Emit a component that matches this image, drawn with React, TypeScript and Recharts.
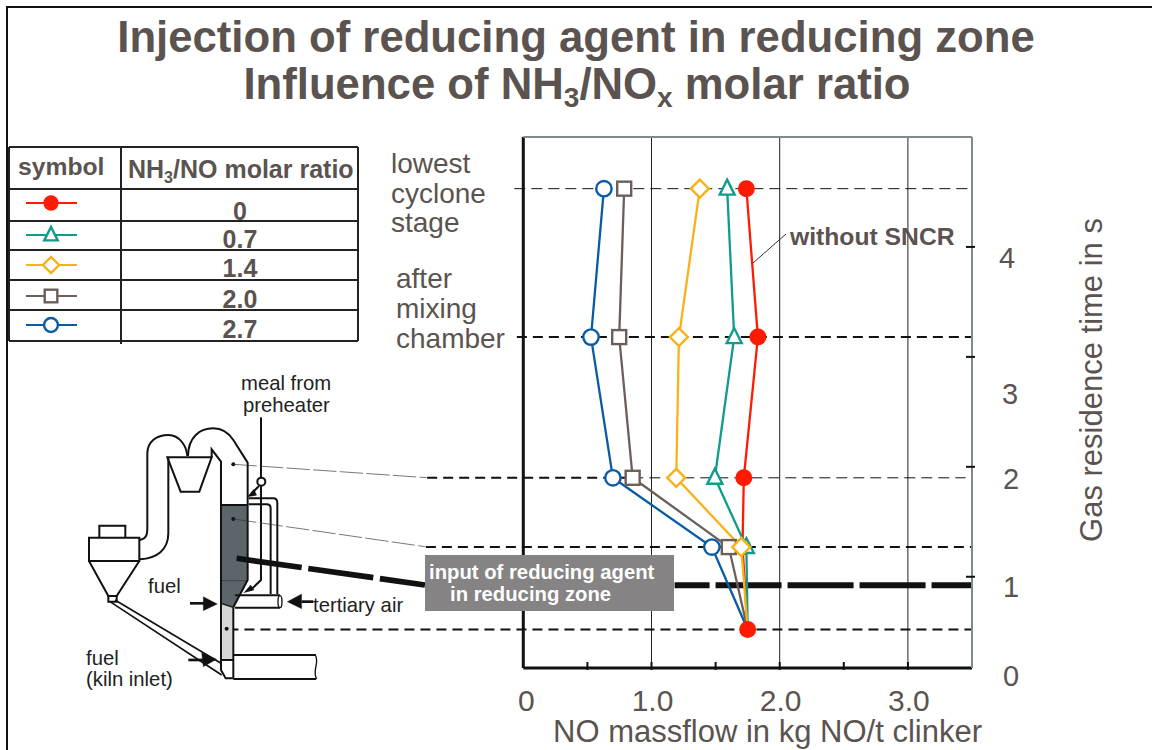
import React from "react";
import { ComposedChart, Line, XAxis, YAxis, CartesianGrid, ReferenceLine } from "recharts";

const residenceTime = [4.53, 3.18, 1.9, 1.27, 0.52];
const ratio0 = [1.74, 1.83, 1.72, 1.71, 1.75];
const ratio07 = [1.59, 1.645, 1.494, 1.74, 1.75];
const ratio14 = [1.377, 1.214, 1.193, 1.7, 1.75];
const ratio20 = [0.787, 0.748, 0.853, 1.603, 1.75];
const ratio27 = [0.629, 0.528, 0.699, 1.471, 1.75];
const xTicks = [0, 0.5, 1, 1.5, 2, 2.5, 3, 3.5];
const yTicks = [0.17, 1, 2, 3, 4];
const yTickLabels = ["0", "1", "2", "3", "4"];
const ratioLabels = ["0", "0.7", "1.4", "2.0", "2.7"];

const data = residenceTime.map((t, i) => ({
  t,
  r0: ratio0[i],
  r07: ratio07[i],
  r14: ratio14[i],
  r20: ratio20[i],
  r27: ratio27[i],
}));

const TEXT = "#5b5350";
const FONT = "'Liberation Sans', Arial, sans-serif";
const COLORS = { red: "#ff1a00", teal: "#0f9c8c", gold: "#fbb017", gray: "#6b5f5b", blue: "#0a5ba5" };

type Kind = "circleFilled" | "triangle" | "diamond" | "square" | "circle";

function Marker({ kind, cx, cy, color, scale = 1 }: { kind: Kind; cx: number; cy: number; color: string; scale?: number }) {
  const sw = 2.4;
  if (kind === "circleFilled") return <circle cx={cx} cy={cy} r={8.5 * scale} fill={color} />;
  if (kind === "circle") return <circle cx={cx} cy={cy} r={7.7 * scale} fill="#fff" stroke={color} strokeWidth={sw} />;
  if (kind === "square") {
    const s = 7 * scale;
    return <rect x={cx - s} y={cy - s} width={2 * s} height={2 * s} fill="#fff" stroke={color} strokeWidth={sw} />;
  }
  if (kind === "diamond") {
    const s = 9 * scale;
    return <path d={`M${cx - s},${cy}L${cx},${cy - s}L${cx + s},${cy}L${cx},${cy + s}Z`} fill="#fff" stroke={color} strokeWidth={sw} />;
  }
  const s = 7.5 * scale;
  return <path d={`M${cx - s},${cy + 6 * scale}L${cx},${cy - 9 * scale}L${cx + s},${cy + 6 * scale}Z`} fill="#fff" stroke={color} strokeWidth={sw} />;
}

const dotFor = (kind: Kind, color: string, showLast: boolean) => (p: any) => {
  const { cx, cy, index } = p;
  if (index === residenceTime.length - 1 && !showLast) return <g key={index} />;
  return (
    <g key={index}>
      <Marker kind={kind} cx={cx} cy={cy} color={color} />
    </g>
  );
};

const XTick = (p: any) => {
  const { x, y, payload } = p;
  const v = payload.value;
  const label = Number.isInteger(v) && v < 3.5 ? (v === 0 ? "0" : v.toFixed(1)) : null;
  return (
    <g>
      {v > 0 && v < 3.5 && <line x1={x} x2={x} y1={y} y2={y - 8} stroke="#111" strokeWidth={2} />}
      {label && (
        <text x={x + (v === 0 ? 3 : 1)} y={y + 41} textAnchor="middle" fontSize={30} fontFamily={FONT} fill={TEXT}>
          {label}
        </text>
      )}
    </g>
  );
};

const yLabelShift = [18, 20.5, 22, 47, 21];
const yLabelX = [37, 37, 37, 36, 33];
const YTick = (p: any) => {
  const { x, y, index } = p;
  return (
    <g>
      {index > 0 && <line x1={x - 8} x2={x + 1} y1={y} y2={y} stroke="#111" strokeWidth={2} />}
      <text x={x + yLabelX[index]} y={y + yLabelShift[index]} textAnchor="middle" fontSize={29} fontFamily={FONT} fill={TEXT}>
        {yTickLabels[index]}
      </text>
    </g>
  );
};

const rows = [147, 189, 221, 250, 280, 310, 341];
const legendKinds: { kind: Kind; color: string }[] = [
  { kind: "circleFilled", color: COLORS.red },
  { kind: "triangle", color: COLORS.teal },
  { kind: "diamond", color: COLORS.gold },
  { kind: "square", color: COLORS.gray },
  { kind: "circle", color: COLORS.blue },
];
const legendLineY = [203, 235, 265, 296, 325];
const legendTextY = [220, 248, 277, 308, 338];

function Overlay() {
  const t = (x: number, y: number, s: string, size = 28, extra: any = {}) => (
    <text x={x} y={y} fontSize={size} fontFamily={FONT} fill={TEXT} {...extra}>
      {s}
    </text>
  );
  const dark = { fill: "#222" };
  return (
    <svg width={1152} height={750} style={{ position: "absolute", left: 0, top: 0, pointerEvents: "none" }}>
      <path d="M7,750L7,7L1152,7" fill="none" stroke="#111" strokeWidth={2} />
      <text x={576} y={52} textAnchor="middle" fontSize={43.7} fontWeight="bold" fontFamily={FONT} fill={TEXT}>
        Injection of reducing agent in reducing zone
      </text>
      <text x={577} y={99} textAnchor="middle" fontSize={43.7} fontWeight="bold" fontFamily={FONT} fill={TEXT}>
        Influence of NH<tspan fontSize={28} dy={8}>3</tspan>
        <tspan dy={-8}>/NO</tspan>
        <tspan fontSize={28} dy={8}>x</tspan>
        <tspan dy={-8}> molar ratio</tspan>
      </text>

      {/* legend table */}
      <g stroke="#222" strokeWidth={2} fill="none">
        {rows.map((y) => (
          <line key={y} x1={9} x2={358} y1={y} y2={y} />
        ))}
        <line x1={9} x2={9} y1={147} y2={341} />
        <line x1={358} x2={358} y1={147} y2={341} />
        <line x1={121} x2={121} y1={147} y2={344} />
      </g>
      {t(18, 175, "symbol", 24.7, { fontWeight: "bold" })}
      <text x={128} y={178} fontSize={25} fontWeight="bold" fontFamily={FONT} fill={TEXT}>
        NH<tspan fontSize={16} dy={5}>3</tspan>
        <tspan dy={-5}>/NO molar ratio</tspan>
      </text>
      {legendKinds.map((k, i) => (
        <g key={i}>
          <line x1={26} x2={77} y1={legendLineY[i]} y2={legendLineY[i]} stroke={k.color} strokeWidth={2} />
          <Marker kind={k.kind} cx={51} cy={legendLineY[i]} color={k.color} scale={0.9} />
          <text x={240} y={legendTextY[i]} textAnchor="middle" fontSize={25} fontWeight="bold" fontFamily={FONT} fill={TEXT}>
            {ratioLabels[i]}
          </text>
        </g>
      ))}

      {t(391, 173, "lowest")}
      {t(391, 203, "cyclone")}
      {t(391, 232, "stage")}
      {t(396, 288, "after")}
      {t(396, 318, "mixing")}
      {t(396, 348, "chamber")}

      {/* kiln diagram */}
      <g transform="translate(60,370) scale(0.3333)" fill="none" stroke="#111" strokeWidth={6}>
        <path d="M483,405L562,405L562,630L520,712L483,700Z" fill="#5c6569" stroke="none" />
        <path d="M483,700L520,712L520,870L483,870Z" fill="#d4d6d8" stroke="none" />
        <path d="M483,632L562,632" stroke="#333" strokeWidth={2} />
        <path d="M483,405L562,405" />
        <path d="M240,510C262,505 262,490 262,470L262,250C262,215 290,195 325,195C360,195 380,230 382,258" />
        <path d="M240,568C290,565 325,540 325,490L325,262" />
        <path d="M322,262L455,262L418,365L362,365Z" />
        <path d="M384,258C385,200 420,175 460,175C490,175 510,195 520,210L563,278L563,630L520,712" />
        <path d="M455,262L455,238L483,275L483,900L497,925L520,925" />
        <path d="M520,712L520,925" />
        <path d="M483,700L520,712" strokeWidth={4} />
        <path d="M483,870L520,870" />
        <path d="M520,855L768,855M520,927L768,927" />
        <path d="M766,855C780,880 755,900 770,927" strokeWidth={4} />
        <path d="M118,503L118,467L196,467L196,503" />
        <path d="M87,503L238,503L238,573L87,573Z" />
        <path d="M87,573L145,678L170,678L238,573" />
        <path d="M145,678L170,678L170,695L145,695Z" />
        <path d="M150,695L485,915M165,690L483,880" strokeWidth={5} />
        <path d="M525,676L660,676M525,713L660,713" />
        <ellipse cx={660} cy={695} rx={6} ry={18} strokeWidth={4} />
        <path d="M566,385L640,385Q652,385 652,400L652,672" />
        <path d="M566,403L620,403Q632,403 632,415L632,672" />
        <path d="M603,142L603,325" />
        <path d="M603,348L603,630L572,660" />
        <circle cx={604} cy={335} r={12} fill="#fff" />
        <path d="M597,348L575,370" />
        <path d="M562,380L582,358L590,376Z" fill="#111" strokeWidth={1} />
        <path d="M552,668L572,645L582,660Z" fill="#111" strokeWidth={1} />
        <path d="M390,700L440,700" strokeWidth={8} />
        <path d="M430,680L472,702L430,722Z" fill="#111" strokeWidth={1} />
        <path d="M725,695L760,695" strokeWidth={8} />
        <path d="M682,695L725,672L725,716Z" fill="#111" strokeWidth={1} />
        <path d="M385,870L435,870" strokeWidth={8} />
        <path d="M425,848L470,868L430,890Z" fill="#111" strokeWidth={1} />
        <circle cx={520} cy={283} r={6} fill="#111" stroke="none" />
        <circle cx={520} cy={447} r={6} fill="#111" stroke="none" />
        <circle cx={500} cy={776} r={6} fill="#111" stroke="none" />
        <path d="M520,283L1100,323M520,447L1095,530" strokeWidth={2} strokeDasharray="70 10" stroke="#333" />
        <path d="M530,565L1095,645" strokeWidth={17} strokeDasharray="197 20" />
      </g>
      {t(241, 390, "meal from", 20.3, dark)}
      {t(243, 412, "preheater", 20.3, dark)}
      {t(148, 593, "fuel", 20.3, dark)}
      {t(313, 612, "tertiary air", 20.3, dark)}
      {t(86, 665, "fuel", 20.3, dark)}
      {t(86, 686, "(kiln inlet)", 20.3, dark)}

      {/* callout */}
      <rect x={425} y={555} width={249} height={56} fill="#858383" />
      <text x={429} y={579} fontSize={20.3} fontWeight="bold" fontFamily={FONT} fill="#fff">input of reducing agent</text>
      <text x={450} y={601} fontSize={20.3} fontWeight="bold" fontFamily={FONT} fill="#fff">in reducing zone</text>

      <line x1={786} y1={234} x2={753} y2={263} stroke="#333" strokeWidth={1} />
      {t(790, 245, "without SNCR", 24.7, { fontWeight: "bold" })}

      <text x={767.5} y={742} textAnchor="middle" fontSize={31} fontFamily={FONT} fill={TEXT}>
        NO massflow in kg NO/t clinker
      </text>
      <text transform="translate(1102,380) rotate(-90)" textAnchor="middle" fontSize={31} fontFamily={FONT} fill={TEXT}>
        Gas residence time in s
      </text>
    </svg>
  );
}

const guideLines = [
  { y: residenceTime[0], from: -0.07, to: 3.5, w: 1, dash: "11 6" },
  { y: residenceTime[1], from: -0.05, to: 3.5, w: 2, dash: "10 6" },
  { y: residenceTime[2], from: -0.75, to: 0.85, w: 2, dash: "10 6" },
  { y: residenceTime[2], from: 0.85, to: 3.45, w: 1, dash: "11 6" },
  { y: residenceTime[3], from: -0.76, to: 3.5, w: 2, dash: "10 6" },
  { y: residenceTime[4], from: -2.3, to: 3.5, w: 2, dash: "10 6" },
];

export default function App() {
  return (
    <div style={{ position: "absolute", left: 0, top: 0, width: 1152, height: 750, background: "#fff", overflow: "hidden" }}>
      <ComposedChart
        width={1152}
        height={750}
        data={data}
        layout="vertical"
        margin={{ top: 137, left: 523.3, right: 120, bottom: 42 }}
      >
        <CartesianGrid horizontal={false} vertical verticalValues={[1, 2, 3]} stroke="#222" strokeWidth={1} />
        <XAxis
          type="number"
          domain={[0, 3.5]}
          ticks={xTicks}
          height={40}
          interval={0}
          tickSize={0}
          axisLine={{ stroke: "#111", strokeWidth: 3 }}
          tickLine={false}
          tick={XTick}
        />
        <YAxis
          yAxisId="0"
          type="number"
          dataKey="t"
          orientation="right"
          reversed
          domain={[0.17, 5]}
          ticks={yTicks}
          width={60}
          interval={0}
          tickSize={0}
          axisLine={{ stroke: "#7f8a8c", strokeWidth: 2 }}
          tickLine={false}
          tick={YTick}
        />
        <ReferenceLine x={0} stroke="#111" strokeWidth={3} />
        <ReferenceLine y={5} stroke="#7f8a8c" strokeWidth={2} />
        {guideLines.map((g, i) => (
          <ReferenceLine
            key={i}
            ifOverflow="visible"
            segment={[{ x: g.from, y: g.y }, { x: g.to, y: g.y }]}
            stroke="#111"
            strokeWidth={g.w}
            strokeDasharray={g.dash}
          />
        ))}
        <ReferenceLine
          ifOverflow="visible"
          segment={[{ x: 1.18, y: 0.923 }, { x: 3.5, y: 0.923 }]}
          stroke="#111"
          strokeWidth={6}
          strokeDasharray="66 6"
          strokeDashoffset={31}
        />
        <Line dataKey="r0" stroke={COLORS.red} strokeWidth={2.3} dot={dotFor("circleFilled", COLORS.red, true)} isAnimationActive={false} />
        <Line dataKey="r07" stroke={COLORS.teal} strokeWidth={2.3} dot={dotFor("triangle", COLORS.teal, false)} isAnimationActive={false} />
        <Line dataKey="r27" stroke={COLORS.blue} strokeWidth={2.3} dot={dotFor("circle", COLORS.blue, false)} isAnimationActive={false} />
        <Line dataKey="r20" stroke={COLORS.gray} strokeWidth={2.3} dot={dotFor("square", COLORS.gray, false)} isAnimationActive={false} />
        <Line dataKey="r14" stroke={COLORS.gold} strokeWidth={2.3} dot={dotFor("diamond", COLORS.gold, false)} isAnimationActive={false} />
      </ComposedChart>
      <Overlay />
    </div>
  );
}
